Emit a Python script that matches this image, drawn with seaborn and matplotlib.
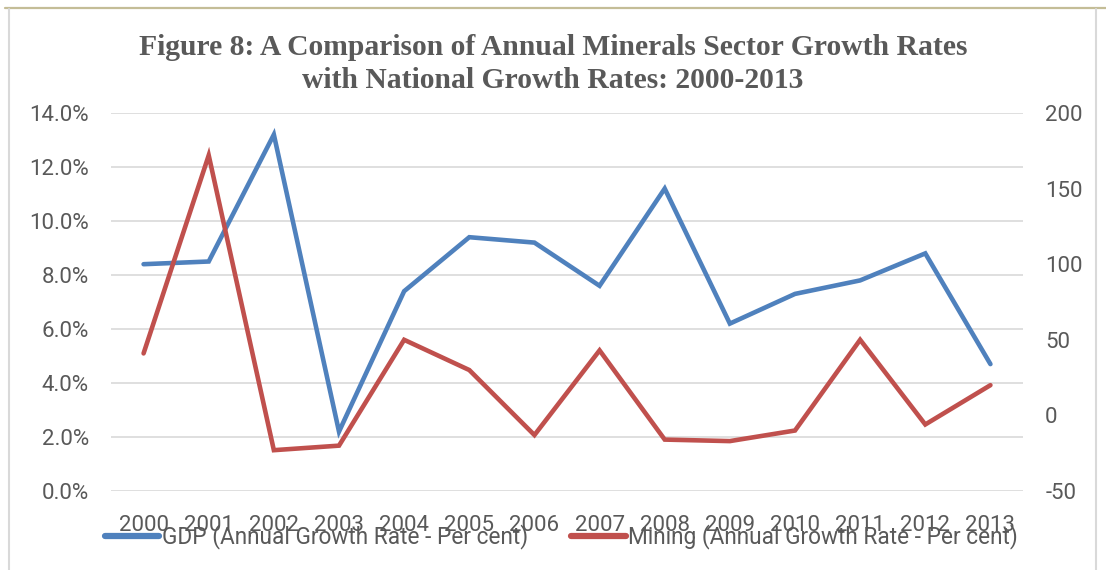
import matplotlib
matplotlib.use("Agg")
import matplotlib.pyplot as plt
from matplotlib.lines import Line2D
from matplotlib.ticker import FuncFormatter, FixedLocator
import seaborn as sns
import pandas as pd

years = [2000, 2001, 2002, 2003, 2004, 2005, 2006, 2007, 2008, 2009, 2010, 2011, 2012, 2013]
gdp_growth = [8.4, 8.5, 13.2, 2.2, 7.4, 9.4, 9.2, 7.6, 11.2, 6.2, 7.3, 7.8, 8.8, 4.7]
mining_growth = [41, 172, -23, -20, 50, 30, -13, 43, -16, -17, -10, 50, -6, 20]
left_ticks = [0, 2, 4, 6, 8, 10, 12, 14]
right_ticks = [-50, 0, 50, 100, 150, 200]
gdp_label = "GDP (Annual Growth Rate - Per cent)"
mining_label = "Mining (Annual Growth Rate - Per cent)"
title = "Figure 8: A Comparison of Annual Minerals Sector Growth Rates\nwith National Growth Rates: 2000-2013"

BLUE = "#4f81bd"
RED = "#c0504d"
GRID = "#d9d9d9"
TEXT = "#595959"

sns.set_theme(style="white")
plt.rcParams["font.family"] = ["Roboto", "DejaVu Sans"]

df = pd.DataFrame({"year": years, "gdp": gdp_growth, "mining": mining_growth})

fig = plt.figure(figsize=(11.06, 5.70), dpi=100)
ax = fig.add_axes([111 / 1106, 79 / 570, 912 / 1106, 378 / 570])
ax2 = ax.twinx()

sns.lineplot(data=df, x="year", y="gdp", ax=ax, color=BLUE, linewidth=3.3,
             solid_capstyle="round", solid_joinstyle="miter", legend=False)
sns.lineplot(data=df, x="year", y="mining", ax=ax2, color=RED, linewidth=3.3,
             solid_capstyle="round", solid_joinstyle="miter", legend=False)

ax.set_xlim(years[0] - 0.5, years[-1] + 0.5)
ax.set_ylim(left_ticks[0], left_ticks[-1])
ax2.set_ylim(right_ticks[0], right_ticks[-1])

ax.yaxis.set_major_locator(FixedLocator(left_ticks))
ax.yaxis.set_major_formatter(FuncFormatter(lambda v, p: f"{v:.1f}%"))
ax2.yaxis.set_major_locator(FixedLocator(right_ticks))
ax2.yaxis.set_major_formatter(FuncFormatter(lambda v, p: f"{v:.0f}"))
ax.set_xticks(years)
ax.set_xticklabels([str(y) for y in years])

ax.grid(axis="y", color=GRID, linewidth=1.2)
ax.set_axisbelow(True)
ax.set_xlabel("")
ax.set_ylabel("")
ax2.set_ylabel("")

for a in (ax, ax2):
    for s in a.spines.values():
        s.set_visible(False)
    a.tick_params(length=0, labelsize=16, labelcolor=TEXT)
ax.tick_params(axis="y", pad=16)
ax2.tick_params(axis="y", pad=16)
ax.tick_params(axis="x", pad=17)

handles = [Line2D([], [], color=BLUE, linewidth=4.5, solid_capstyle="round"),
           Line2D([], [], color=RED, linewidth=4.5, solid_capstyle="round")]
fig.legend(handles, [gdp_label, mining_label], loc="center left",
           bbox_to_anchor=(105 / 1106, 1 - 537 / 570), ncol=2, frameon=False,
           fontsize=16.3, labelcolor=TEXT, handlelength=2.4, handletextpad=0.12,
           columnspacing=1.9, borderpad=0, borderaxespad=0)

fig.text(553 / 1106, 1 - 64 / 570, title, ha="center", va="center",
         family="Liberation Serif", fontweight="bold", fontsize=21.3,
         color=TEXT, linespacing=1.3)

# page frame
fig.add_artist(Line2D([5 / 1106, 1], [1 - 8 / 570, 1 - 8 / 570], color="#c4bd97", linewidth=1.6))
fig.add_artist(Line2D([9 / 1106, 9 / 1106], [0, 1 - 9 / 570], color=GRID, linewidth=1.5))
fig.add_artist(Line2D([1096 / 1106, 1096 / 1106], [0, 1 - 9 / 570], color=GRID, linewidth=1.5))

fig.savefig("out.png", dpi=100)
